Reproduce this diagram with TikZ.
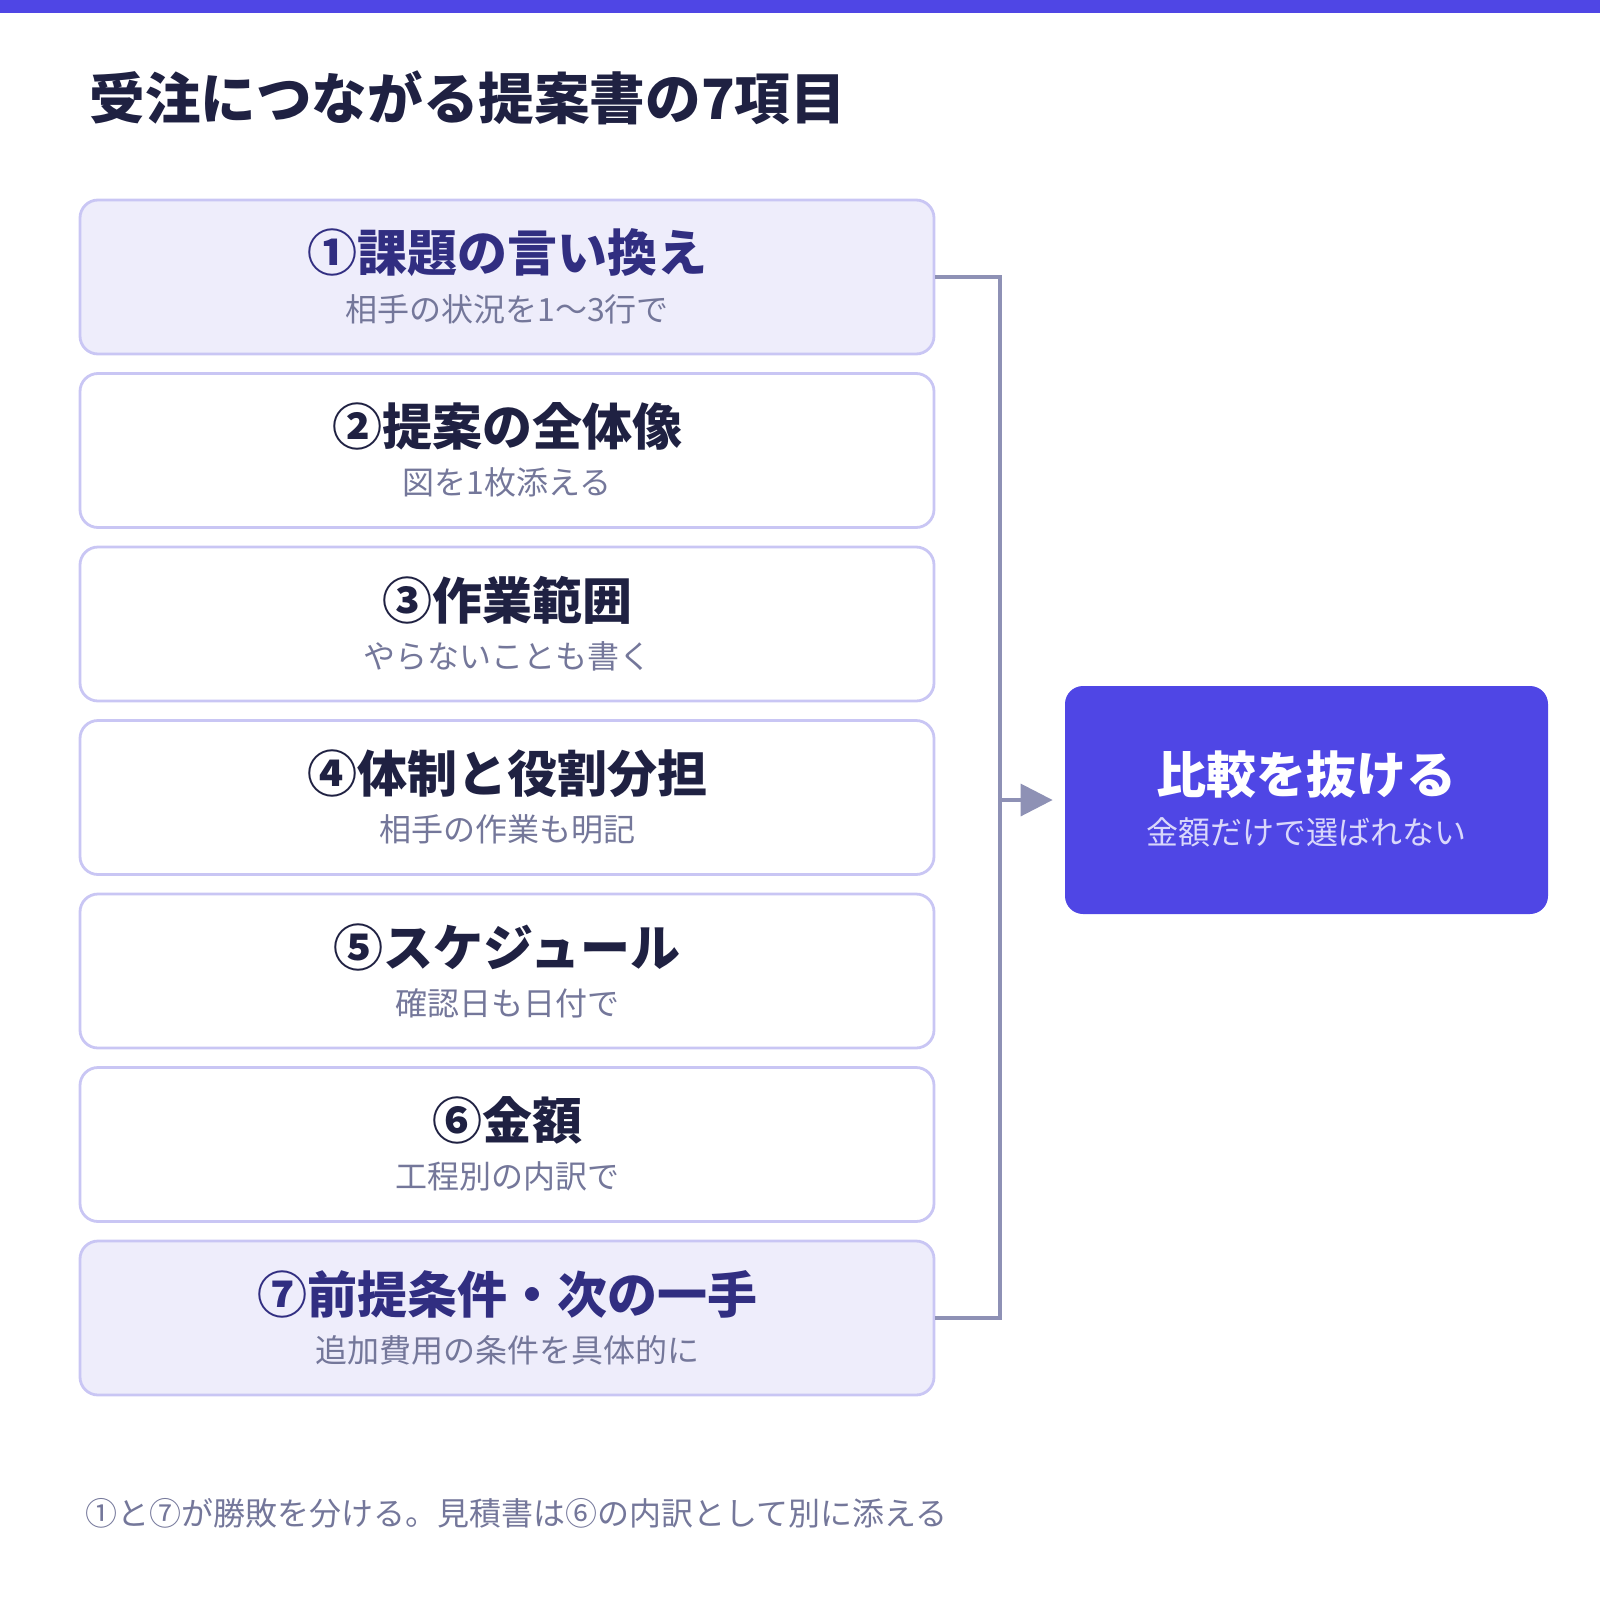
\documentclass[tikz,border=0pt]{standalone}
\usepackage{fontspec}
\newfontfamily\jpfont{Noto Sans CJK JP}
\usetikzlibrary{arrows.meta,positioning}
\definecolor{accent}{HTML}{4F46E5}
\definecolor{edge}{HTML}{C9C6F4}
\definecolor{soft}{HTML}{EEEDFB}
\definecolor{ink}{HTML}{1F2142}
\definecolor{deep}{HTML}{312E81}
\definecolor{muted}{HTML}{74779A}
\definecolor{wire}{HTML}{8E91B5}
\definecolor{pale}{HTML}{D9D7FB}
\begin{document}
\begin{tikzpicture}[
  item/.style={rectangle, rounded corners=9pt, draw=edge, line width=1.4pt, fill=white, minimum width=427pt, minimum height=77pt, inner sep=0pt},
  keyitem/.style={item, fill=soft},
  goal/.style={rectangle, rounded corners=9pt, fill=accent, minimum width=241.5pt, minimum height=114pt, inner sep=0pt},
  head/.style={font=\jpfont\bfseries\fontsize{25}{30}\selectfont, text=ink, inner sep=0pt},
  keyhead/.style={head, text=deep},
  sub/.style={font=\jpfont\fontsize{16}{20}\selectfont, text=muted, inner sep=0pt},
  link/.style={draw=wire, line width=1.75pt},
  node distance=86.75pt,
  font=\jpfont
]
\useasboundingbox (0,0) rectangle (800pt,-800pt);
\fill[accent] (0,0) rectangle (800pt,-6.5pt);
\node[anchor=west, inner sep=0pt, text=ink, font=\jpfont\bfseries\fontsize{27.8}{32}\selectfont] (title) at (44.5pt,-48.75pt) {受注につながる提案書の7項目};

\node[keyitem] (s1) at (253.5pt,-138.5pt) {};
\node[item, below of=s1] (s2) {};
\node[item, below of=s2] (s3) {};
\node[item, below of=s3] (s4) {};
\node[item, below of=s4] (s5) {};
\node[item, below of=s5] (s6) {};
\node[keyitem, below of=s6] (s7) {};

\node[keyhead, above of=s1, node distance=12pt] (s1h) {①課題の言い換え};
\node[sub, below of=s1, node distance=16pt] (s1s) {相手の状況を1〜3行で};
\node[head, above of=s2, node distance=12pt] (s2h) {②提案の全体像};
\node[sub, below of=s2, node distance=16pt] (s2s) {図を1枚添える};
\node[head, above of=s3, node distance=12pt] (s3h) {③作業範囲};
\node[sub, below of=s3, node distance=16pt] (s3s) {やらないことも書く};
\node[head, above of=s4, node distance=12pt] (s4h) {④体制と役割分担};
\node[sub, below of=s4, node distance=16pt] (s4s) {相手の作業も明記};
\node[head, above of=s5, node distance=12pt] (s5h) {⑤スケジュール};
\node[sub, below of=s5, node distance=16pt] (s5s) {確認日も日付で};
\node[head, above of=s6, node distance=12pt] (s6h) {⑥金額};
\node[sub, below of=s6, node distance=16pt] (s6s) {工程別の内訳で};
\node[keyhead, above of=s7, node distance=12pt] (s7h) {⑦前提条件・次の一手};
\node[sub, below of=s7, node distance=16pt] (s7s) {追加費用の条件を具体的に};

\node[goal, right of=s4, node distance=399.75pt, yshift=-1.25pt] (goal) {};
\node[head, text=white, above of=goal, node distance=12.5pt] (goalh) {比較を抜ける};
\node[sub, text=pale, below of=goal, node distance=16pt] (goals) {金額だけで選ばれない};

\coordinate[right of=s4, node distance=246.5pt, yshift=-1.25pt] (join);
\draw[link] (s1.east) -| (join) |- (s7.east);
\draw[link, -{Triangle[length=16pt,width=16pt]}, shorten >=6pt] (join) -- (goal);

\node[sub, anchor=west] (foot) at (42.5pt,-756.5pt) {①と⑦が勝敗を分ける。見積書は⑥の内訳として別に添える};
\end{tikzpicture}
\end{document}
